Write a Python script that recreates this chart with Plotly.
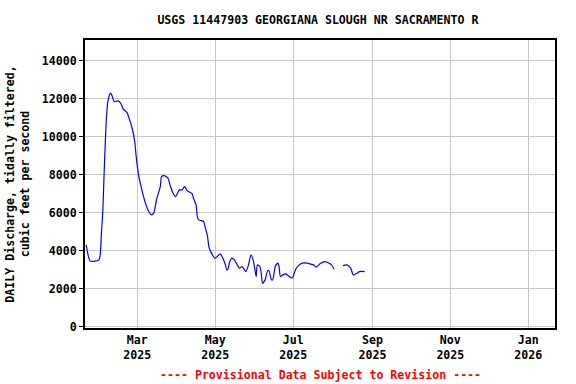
import plotly.graph_objects as go

dates = [
    "2025-01-20", "2025-01-23", "2025-01-26", "2025-01-30", "2025-01-31", "2025-02-01",
    "2025-02-02", "2025-02-03", "2025-02-04", "2025-02-05", "2025-02-06", "2025-02-08",
    "2025-02-09", "2025-02-11", "2025-02-14", "2025-02-16", "2025-02-18", "2025-02-21",
    "2025-02-23", "2025-02-25", "2025-02-27", "2025-02-28", "2025-03-02", "2025-03-04",
    "2025-03-07", "2025-03-10", "2025-03-12", "2025-03-14", "2025-03-16", "2025-03-19",
    "2025-03-20", "2025-03-22", "2025-03-25", "2025-03-27", "2025-03-29", "2025-03-31",
    "2025-04-03", "2025-04-05", "2025-04-07", "2025-04-09", "2025-04-13", "2025-04-14",
    "2025-04-16", "2025-04-17", "2025-04-18", "2025-04-20", "2025-04-22", "2025-04-23",
    "2025-04-25", "2025-04-26", "2025-04-28", "2025-05-01", "2025-05-03", "2025-05-05",
    "2025-05-07", "2025-05-09", "2025-05-10", "2025-05-11", "2025-05-12", "2025-05-14",
    "2025-05-16", "2025-05-20", "2025-05-22", "2025-05-25", "2025-05-27", "2025-05-29",
    "2025-05-31", "2025-06-02", "2025-06-03", "2025-06-05", "2025-06-06", "2025-06-07",
    "2025-06-09", "2025-06-11", "2025-06-12", "2025-06-14", "2025-06-15", "2025-06-17",
    "2025-06-19", "2025-06-20", "2025-06-21", "2025-06-23", "2025-06-25", "2025-06-27",
    "2025-06-30", "2025-07-01", "2025-07-03", "2025-07-05", "2025-07-08", "2025-07-12",
    "2025-07-14", "2025-07-17", "2025-07-19", "2025-07-22", "2025-07-26", "2025-07-28",
    "2025-07-31", "2025-08-02", "2025-08-05", "2025-08-09", "2025-08-12", "2025-08-15",
    "2025-08-17", "2025-08-20", "2025-08-22", "2025-08-26",
]
discharge = [
    4316, 3474, 3450, 3526, 3790, 5016,
    6050, 8000, 9750, 11158, 11860, 12300,
    12210, 11860, 11895, 11770, 11460, 11280,
    10895, 10455, 9750, 9050, 8000, 7385,
    6595, 6070, 5895, 6015, 6685, 7385,
    7910, 7965, 7825, 7385, 7035, 6860,
    7210, 7210, 7385, 7175, 7000, 6770,
    6420, 5805, 5630, 5595, 5540, 5280,
    4750, 4225, 3880, 3615, 3737, 3840,
    3615, 3263, 3000, 3036, 3352, 3615,
    3526, 3090, 3175, 2910, 3263, 3790,
    3437, 2647, 3263, 3175, 2826, 2300,
    2474, 2947, 2963, 2474, 2474, 3175,
    3352, 3175, 2647, 2737, 2790, 2700,
    2563, 2647, 3036, 3210, 3352, 3352,
    3316, 3263, 3140, 3316, 3437, 3385,
    3263, 3036, None, 3226, 3263, 3090,
    2737, 2826, 2910, 2910,
]

tick_dates = ["2025-03-01", "2025-05-01", "2025-07-01", "2025-09-01", "2025-11-01", "2026-01-01"]
tick_text = ["Mar<br>2025", "May<br>2025", "Jul<br>2025", "Sep<br>2025", "Nov<br>2025", "Jan<br>2026"]
y_ticks = [0, 2000, 4000, 6000, 8000, 10000, 12000, 14000]
y_text = ["0", "2000", "4000", "6000", "8000", "10000", "12000", "14000"]

FONT = "DejaVu Sans Mono"
FS = 11.6

fig = go.Figure()
fig.add_trace(go.Scatter(
    x=dates, y=discharge, mode="lines",
    line=dict(color="#0000ff", width=1.2, shape="spline", smoothing=0.6),
    connectgaps=False, showlegend=False,
))

fig.update_layout(
    width=576, height=384,
    margin=dict(l=85, r=21, t=40, b=56),
    paper_bgcolor="white", plot_bgcolor="white",
    font=dict(family=FONT, size=FS, color="black", weight="bold"),
    title=dict(text="USGS 11447903 GEORGIANA SLOUGH NR SACRAMENTO R",
               x=0.552, xanchor="center", y=0.948, yanchor="middle",
               font=dict(family=FONT, size=FS, color="black", weight="bold")),
    xaxis=dict(
        range=["2025-01-19 02:00", "2026-01-21 22:00"],
        tickmode="array", tickvals=tick_dates, ticktext=tick_text,
        showgrid=True, gridcolor="#c8c8c8", gridwidth=1,
        showline=True, linecolor="black", linewidth=2, mirror=True,
        ticks="", zeroline=False, automargin=False,
        tickfont=dict(family=FONT, size=FS, color="black", weight="bold"),
    ),
    yaxis=dict(
        range=[-60, 15100],
        tickmode="array", tickvals=y_ticks, ticktext=y_text,
        showgrid=True, gridcolor="#c8c8c8", gridwidth=1,
        showline=True, linecolor="black", linewidth=2, mirror=True,
        ticks="outside", ticklen=4, tickcolor="black", zeroline=False,
        automargin=False,
        tickfont=dict(family=FONT, size=FS, color="black", weight="bold"),
        title=dict(text="DAILY Discharge, tidally filtered,<br>cubic feet per second",
                   standoff=10,
                   font=dict(family=FONT, size=FS, color="black", weight="bold")),
    ),
    annotations=[dict(
        text="---- Provisional Data Subject to Revision ----",
        xref="paper", yref="paper", x=0.5, y=-0.162, xanchor="center", yanchor="middle",
        showarrow=False,
        font=dict(family=FONT, size=FS, color="#ff0000", weight="bold"),
    )],
)

fig.write_html("out.html")
